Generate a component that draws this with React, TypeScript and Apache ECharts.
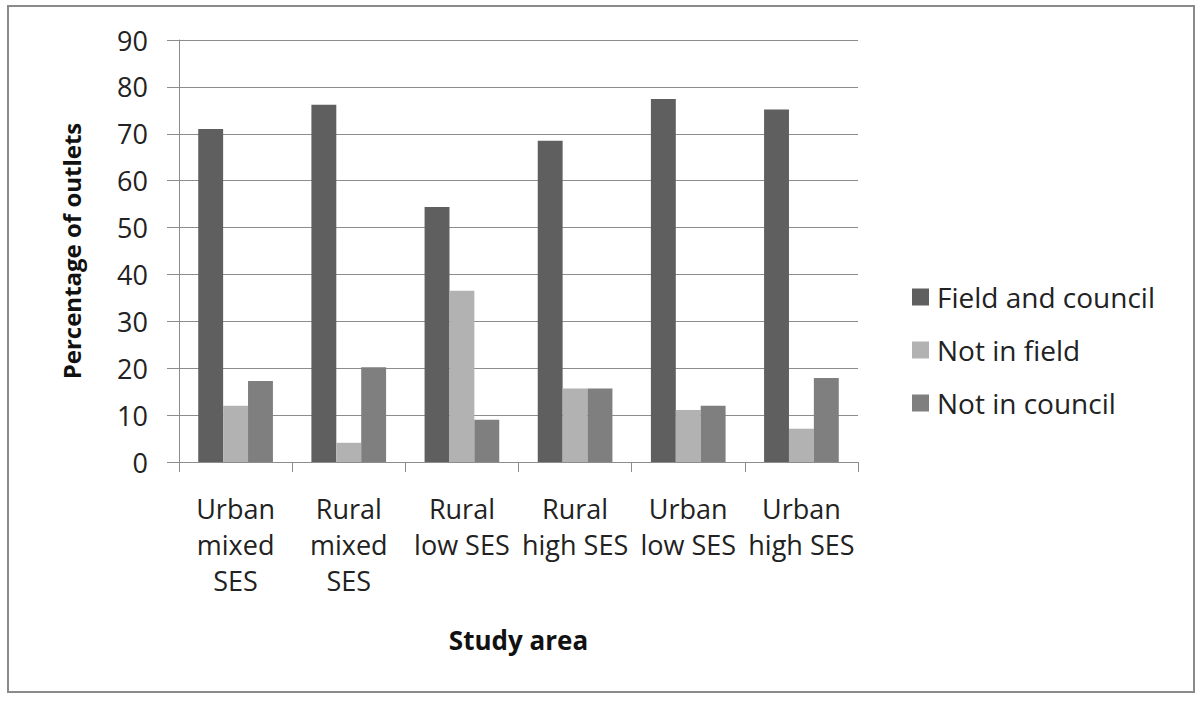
import React, { useEffect, useRef } from "react";
import * as echarts from "echarts";

const categories = [
  "Urban\nmixed\nSES",
  "Rural\nmixed\nSES",
  "Rural\nlow SES",
  "Rural\nhigh SES",
  "Urban\nlow SES",
  "Urban\nhigh SES",
];
const fieldAndCouncil = [71.0, 76.2, 54.4, 68.5, 77.4, 75.2];
const notInField = [12.0, 4.1, 36.5, 15.7, 11.1, 7.1];
const notInCouncil = [17.3, 20.2, 9.0, 15.7, 12.0, 17.9];
const seriesNames = ["Field and council", "Not in field", "Not in council"];
const seriesColors = ["#5f5f5f", "#b2b2b2", "#7f7f7f"];

const FONT = "'Open Sans', Lato, sans-serif";

export default function App() {
  const ref = useRef<HTMLDivElement>(null);
  useEffect(() => {
    if (!ref.current) return;
    const chart = echarts.init(ref.current, null, { renderer: "svg" });
    const datasets = [fieldAndCouncil, notInField, notInCouncil];
    chart.setOption({
      animation: false,
      backgroundColor: "#ffffff",
      textStyle: { fontFamily: FONT },
      graphic: [
        {
          type: "rect",
          shape: { x: 8, y: 6, width: 1186, height: 686 },
          style: { fill: "none", stroke: "#8a8a8a", lineWidth: 2 },
          silent: true,
        },
      ],
      grid: { left: 179, top: 40, width: 679, height: 422 },
      legend: {
        orient: "vertical",
        left: 907,
        top: 278,
        itemWidth: 17,
        itemHeight: 17,
        itemGap: 25,
        icon: "rect",
        textStyle: {
          fontFamily: FONT,
          fontSize: 28,
          color: "#222",
          padding: [0, 0, 0, 3],
        },
        data: seriesNames,
      },
      xAxis: {
        type: "category",
        data: categories,
        name: "Study area",
        nameLocation: "middle",
        nameGap: 165,
        nameTextStyle: {
          fontFamily: FONT,
          fontSize: 26,
          fontWeight: "bold",
          color: "#111",
        },
        axisLine: { show: true, lineStyle: { color: "#8c8c8c", width: 1 } },
        axisTick: {
          show: true,
          length: 10,
          interval: 0,
          lineStyle: { color: "#8c8c8c" },
        },
        axisLabel: {
          interval: 0,
          fontFamily: FONT,
          fontSize: 27,
          lineHeight: 36,
          color: "#222",
          margin: 28,
        },
        splitLine: { show: false },
      },
      yAxis: {
        type: "value",
        min: 0,
        max: 90,
        interval: 10,
        name: "Percentage of outlets",
        nameLocation: "middle",
        nameGap: 96,
        nameRotate: 90,
        nameTextStyle: {
          fontFamily: FONT,
          fontSize: 24,
          fontWeight: "bold",
          color: "#111",
        },
        axisLine: { show: true, lineStyle: { color: "#8c8c8c", width: 1 } },
        axisTick: { show: true, length: 12, lineStyle: { color: "#8c8c8c" } },
        axisLabel: {
          fontFamily: FONT,
          fontSize: 27,
          color: "#222",
          margin: 31,
        },
        splitLine: { show: true, lineStyle: { color: "#8c8c8c", width: 1 } },
      },
      series: datasets.map((d, i) => ({
        name: seriesNames[i],
        type: "bar",
        data: d,
        barGap: "0%",
        barCategoryGap: "34%",
        itemStyle: { color: seriesColors[i] },
      })),
    });
    return () => chart.dispose();
  }, []);
  return (
    <div
      ref={ref}
      style={{ position: "absolute", left: 0, top: 0, width: 1200, height: 711 }}
    />
  );
}
